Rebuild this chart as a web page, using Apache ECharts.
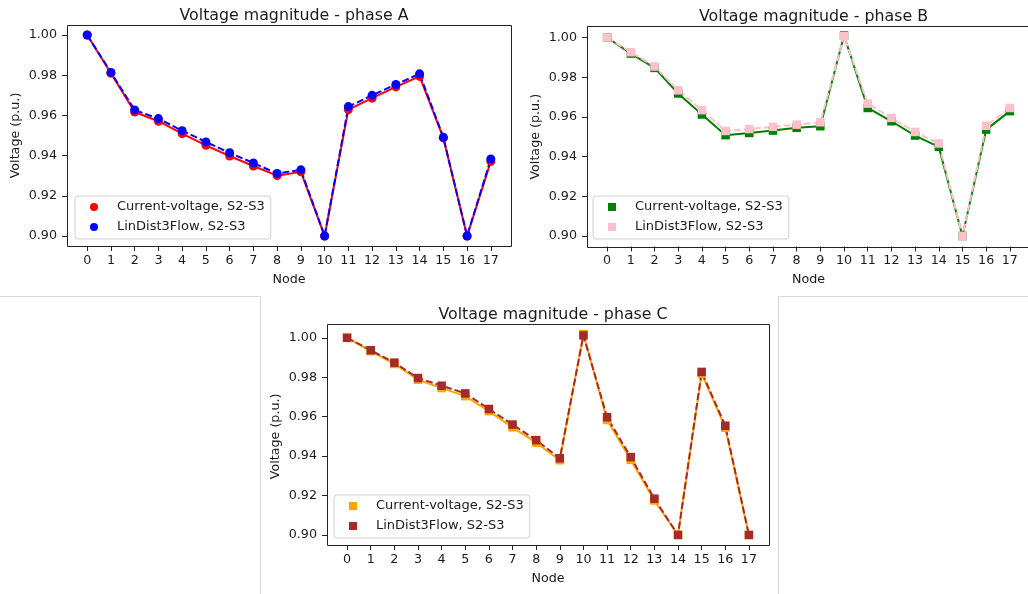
<!DOCTYPE html>
<html>
<head>
<meta charset="utf-8">
<script src="https://cdn.jsdelivr.net/npm/echarts@6/dist/echarts.min.js"></script>
<style>html,body{margin:0;padding:0;background:#fff;}#c{width:1028px;height:594px;}</style>
</head>
<body>
<div id="c"></div>
<script>
const nodes = [0,1,2,3,4,5,6,7,8,9,10,11,12,13,14,15,16,17];
const yTickMin = 0.90, yTickMax = 1.00, yTickStep = 0.02;
const legendNames = ['Current-voltage, S2-S3','LinDist3Flow, S2-S3'];
const titles = ['Voltage magnitude - phase A','Voltage magnitude - phase B','Voltage magnitude - phase C'];

const phaseA_cv = [1.000,0.981,0.9617,0.9571,0.9509,0.9451,0.9398,0.9348,0.9300,0.9319,0.900,0.9629,0.9686,0.9742,0.9794,0.9488,0.900,0.9371];
const phaseA_ld = [1.000,0.9814,0.9627,0.9584,0.9524,0.9468,0.9414,0.9363,0.9311,0.9329,0.900,0.9644,0.9700,0.9754,0.9807,0.9491,0.900,0.9383];
const phaseB_cv = [1.000,0.9919,0.9847,0.9718,0.9612,0.9508,0.9519,0.9531,0.9545,0.9553,1.0010,0.9645,0.9578,0.9506,0.9449,0.900,0.9536,0.9629];
const phaseB_ld = [1.000,0.9926,0.9854,0.9734,0.9634,0.9529,0.9539,0.9550,0.9561,0.9573,1.0007,0.9667,0.9595,0.9524,0.9466,0.900,0.9555,0.9645];
const phaseC_cv = [1.000,0.9932,0.9867,0.9787,0.9745,0.9704,0.9628,0.9546,0.9468,0.9379,1.0019,0.9583,0.9381,0.9175,0.900,0.9818,0.9544,0.900];
const phaseC_ld = [1.000,0.9937,0.9874,0.9796,0.9757,0.9718,0.9639,0.9560,0.9481,0.9389,1.0012,0.9597,0.9395,0.9184,0.900,0.9827,0.9554,0.900];

const FONT = 'DejaVu Sans';
const TXT = '#1a1a1a';
const XPAD = 0.85; // matplotlib x margin in data units

const panels = [
  {key:'A', frame:{left:67, top:25, width:444, height:221}, ymin:0.895, ymax:1.005,
   cv:phaseA_cv, ld:phaseA_ld, c1:'#ff0000', c2:'#0000ff', sym:'circle', legend:{left:75, top:196}},
  {key:'B', frame:{left:587, top:26, width:443, height:220.5}, ymin:0.8947, ymax:1.0058,
   cv:phaseB_cv, ld:phaseB_ld, c1:'#008000', c2:'#ffc0cb', sym:'rect', legend:{left:593, top:196}},
  {key:'C', frame:{left:327, top:324, width:442, height:221}, ymin:0.8949, ymax:1.0070,
   cv:phaseC_cv, ld:phaseC_ld, c1:'#ffa500', c2:'#a52a2a', sym:'rect', legend:{left:334, top:495}}
];

const option = {
  animation:false,
  backgroundColor:'#fff',
  title:[], grid:[], xAxis:[], yAxis:[], legend:[], series:[],
  graphic:[
    {type:'polyline', silent:true, shape:{points:[[0,296.5],[260.5,296.5],[260.5,594]]}, style:{stroke:'#d9d9d9', lineWidth:1, fill:null}},
    {type:'polyline', silent:true, shape:{points:[[778.5,594],[778.5,296.5],[1028,296.5]]}, style:{stroke:'#d9d9d9', lineWidth:1, fill:null}}
  ]
};

panels.forEach((p,i)=>{
  const f = p.frame;
  const xMin = nodes[0] - XPAD, xMax = nodes[nodes.length-1] + XPAD;
  const ux = f.width / (xMax - xMin);
  const uy = f.height / (p.ymax - p.ymin);
  const padL = (nodes[0] - xMin) * ux;
  const padT = (p.ymax - yTickMax) * uy;
  const padB = (yTickMin - p.ymin) * uy;
  const grid = {left: f.left + padL, top: f.top + padT,
                width: (nodes[nodes.length-1]-nodes[0]) * ux, height: (yTickMax - yTickMin) * uy};

  option.graphic.push({type:'rect', silent:true, z:-1,
    shape:{x:Math.round(f.left)+0.5, y:Math.round(f.top)+0.5, width:Math.round(f.width), height:Math.round(f.height)},
    style:{stroke:'#222', lineWidth:1, fill:null}});

  option.title.push({text:titles[i], left:f.left + f.width/2, top:f.top - 22, textAlign:'center',
    textStyle:{fontFamily:FONT, fontSize:15.8, fontWeight:'normal', color:TXT}});
  option.grid.push(Object.assign({show:false}, grid));
  option.xAxis.push({type:'value', gridIndex:i, min:nodes[0], max:nodes[nodes.length-1], interval:1,
    offset: padB,
    name:'Node', nameLocation:'middle', nameGap:27,
    nameTextStyle:{fontFamily:FONT, fontSize:12.7, color:TXT},
    axisLine:{show:false, onZero:false}, splitLine:{show:false},
    axisTick:{show:true, inside:false, length:5, lineStyle:{color:'#222', width:1}},
    axisLabel:{margin:8, fontFamily:FONT, fontSize:12.7, color:TXT}
  });
  option.yAxis.push({type:'value', gridIndex:i, min:yTickMin, max:yTickMax, interval:yTickStep,
    offset: padL,
    name:'Voltage (p.u.)', nameLocation:'middle', nameGap:45,
    nameTextStyle:{fontFamily:FONT, fontSize:12.7, color:TXT},
    axisLine:{show:false, onZero:false}, splitLine:{show:false},
    axisTick:{show:true, inside:false, length:5, lineStyle:{color:'#222', width:1}},
    axisLabel:{margin:10, fontFamily:FONT, fontSize:12.7, color:TXT, formatter:v=>v.toFixed(2)}
  });
  const n1 = p.key+'|'+legendNames[0], n2 = p.key+'|'+legendNames[1];
  option.legend.push({orient:'vertical', left:p.legend.left, top:p.legend.top,
    data:[{name:n1, icon:p.sym},{name:n2, icon:p.sym}],
    formatter:nm=>nm.split('|')[1], selectedMode:false,
    itemWidth:8, itemHeight:8, itemGap:6, padding:[4,6,5,15],
    backgroundColor:'rgba(255,255,255,0.8)', borderColor:'#d0d0d0', borderWidth:1, borderRadius:3,
    textStyle:{fontFamily:FONT, fontSize:13, lineHeight:14, color:TXT, padding:[0,0,0,14]}
  });
  const mk = (name, vals, color, dashed)=>({
    name:name, type:'line', xAxisIndex:i, yAxisIndex:i, clip:false,
    data:nodes.map((x,k)=>[x, vals[k]]),
    symbol:p.sym, symbolSize:p.sym==='circle'?9:8.5, showAllSymbol:true, silent:true,
    itemStyle:{color:color, borderWidth:0},
    lineStyle:{color:color, width:2, type: dashed ? [7,3] : 'solid'},
    emphasis:{disabled:true}
  });
  option.series.push(mk(n1, p.cv, p.c1, false));
  option.series.push(mk(n2, p.ld, p.c2, true));
});

const chart = echarts.init(document.getElementById('c'), null, {renderer:'canvas'});
chart.setOption(option);
</script>
</body>
</html>
